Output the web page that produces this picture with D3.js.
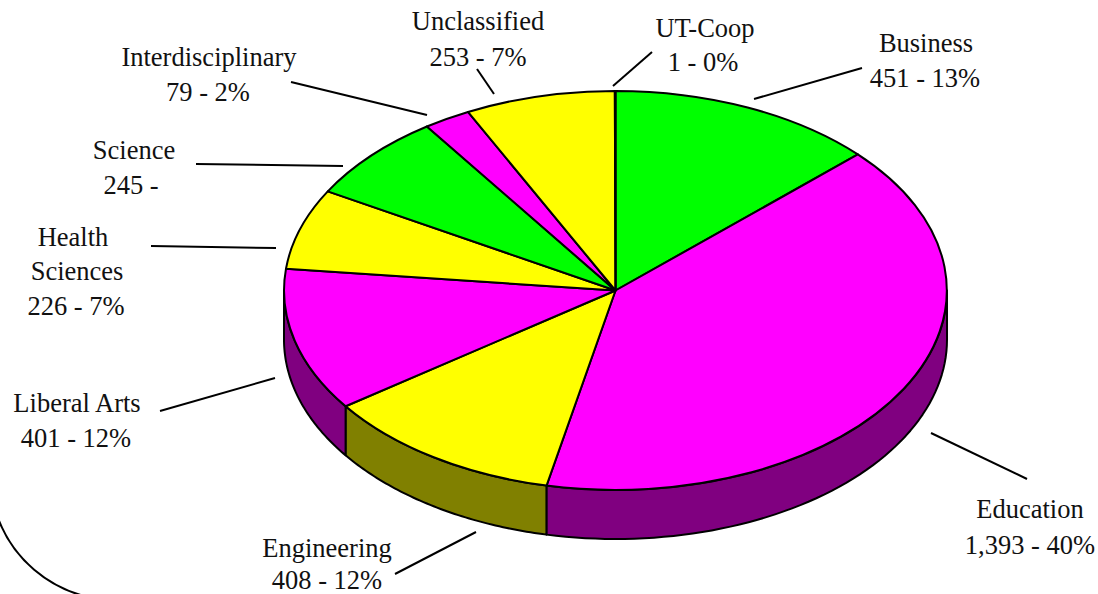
<!DOCTYPE html>
<html>
<head>
<meta charset="utf-8">
<script src="https://cdn.jsdelivr.net/npm/d3@7"></script>
<style>
html,body{margin:0;padding:0;background:#fff;}
svg{display:block;}
text{font-family:"Liberation Serif","Times New Roman",serif;font-size:26.5px;fill:#111;text-anchor:middle;}
</style>
</head>
<body>
<svg id="chart" width="1098" height="594"></svg>
<script>
const categories = ["Business","Education","Engineering","Liberal Arts","Health Sciences","Science","Interdisciplinary","Unclassified","UT-Coop"];
const enrollment = [451,1393,408,401,226,245,79,253,1];
const topColors = ["#00ff00","#ff00ff","#ffff00","#ff00ff","#ffff00","#00ff00","#ff00ff","#ffff00","#00ff00"];
const sideColors = ["#008000","#800080","#808000","#800080","#808000","#008000","#800080","#808000","#008000"];

// label text lines, exactly as printed
const labelLines = [
  ["Business","451 - 13%"],
  ["Education","1,393 - 40%"],
  ["Engineering","408 - 12%"],
  ["Liberal Arts","401 - 12%"],
  ["Health","Sciences","226 - 7%"],
  ["Science","245 -"],
  ["Interdisciplinary","79 - 2%"],
  ["Unclassified","253 - 7%"],
  ["UT-Coop","1 - 0%"]
];
// layout only: per-line [x, baseline]
const labelPos = [
  [[926,52],[925,87]],
  [[1030,518],[1030,554]],
  [[327,557],[327,589]],
  [[77,412],[76,447]],
  [[73,246],[77,280],[76,315]],
  [[134,159],[131,194]],
  [[209,66],[208,101]],
  [[478,30],[478,66]],
  [[705,37],[703,71]]
];
const leaders = [
  [[754,99],[862,68]],
  [[931,433],[1027,479]],
  [[395,574],[476,532]],
  [[160,411],[275,378]],
  [[151,246],[276,248]],
  [[196,164],[343,166]],
  [[291,82],[427,115]],
  [[477,69],[494,94]],
  [[613,86],[652,52]]
];

const cx = 615.5, cy = 290.5, rx = 331.5, ry = 199.5, depth = 49;
const svg = d3.select("#chart");

// backdrop circle, only its lower-left arc shows
svg.append("path")
  .attr("transform","translate(116,474)")
  .attr("d", d3.arc()({innerRadius:126,outerRadius:126,startAngle:Math.PI*1.05,endAngle:Math.PI*1.4}))
  .attr("fill","none").attr("stroke","#000").attr("stroke-width",2);

const arcs = d3.pie().sort(null).value(d=>d)(enrollment);
const xs = d3.scaleLinear().domain([-1,1]).range([cx-rx,cx+rx]);
const ys = d3.scaleLinear().domain([-1,1]).range([cy-ry,cy+ry]);
const rimLine = d3.line();

// side walls: the part of every slice facing the viewer (90deg to 270deg)
arcs.forEach((a,i)=>{
  const from = Math.max(a.startAngle, Math.PI/2), to = Math.min(a.endAngle, Math.PI*1.5);
  if (to <= from) return;
  const angles = d3.range(0,61).map(k=>from+(to-from)*k/60);
  const top = angles.map(t=>[xs(Math.sin(t)), ys(-Math.cos(t))]);
  const bottom = top.map(p=>[p[0],p[1]+depth]).reverse();
  svg.append("path")
    .attr("d", rimLine(top.concat(bottom))+"Z")
    .attr("fill", sideColors[i]).attr("stroke","#000").attr("stroke-width",2).attr("stroke-linejoin","round");
});

// top face
const arcGen = d3.arc().innerRadius(0).outerRadius(1);
svg.append("g").attr("transform",`translate(${cx},${cy}) scale(${rx},${ry})`)
  .selectAll("path").data(arcs).join("path")
  .attr("d", arcGen)
  .attr("fill",(d,i)=>topColors[i])
  .attr("stroke","#000").attr("stroke-width",2)
  .attr("stroke-linejoin","round")
  .attr("vector-effect","non-scaling-stroke");

// leader lines
svg.append("g").selectAll("line").data(leaders).join("line")
  .attr("x1",d=>d[0][0]).attr("y1",d=>d[0][1])
  .attr("x2",d=>d[1][0]).attr("y2",d=>d[1][1])
  .attr("stroke","#000").attr("stroke-width",2);

// labels
categories.forEach((c,i)=>{
  labelLines[i].forEach((line,j)=>{
    svg.append("text").attr("x",labelPos[i][j][0]).attr("y",labelPos[i][j][1]).text(line);
  });
});
</script>
</body>
</html>
